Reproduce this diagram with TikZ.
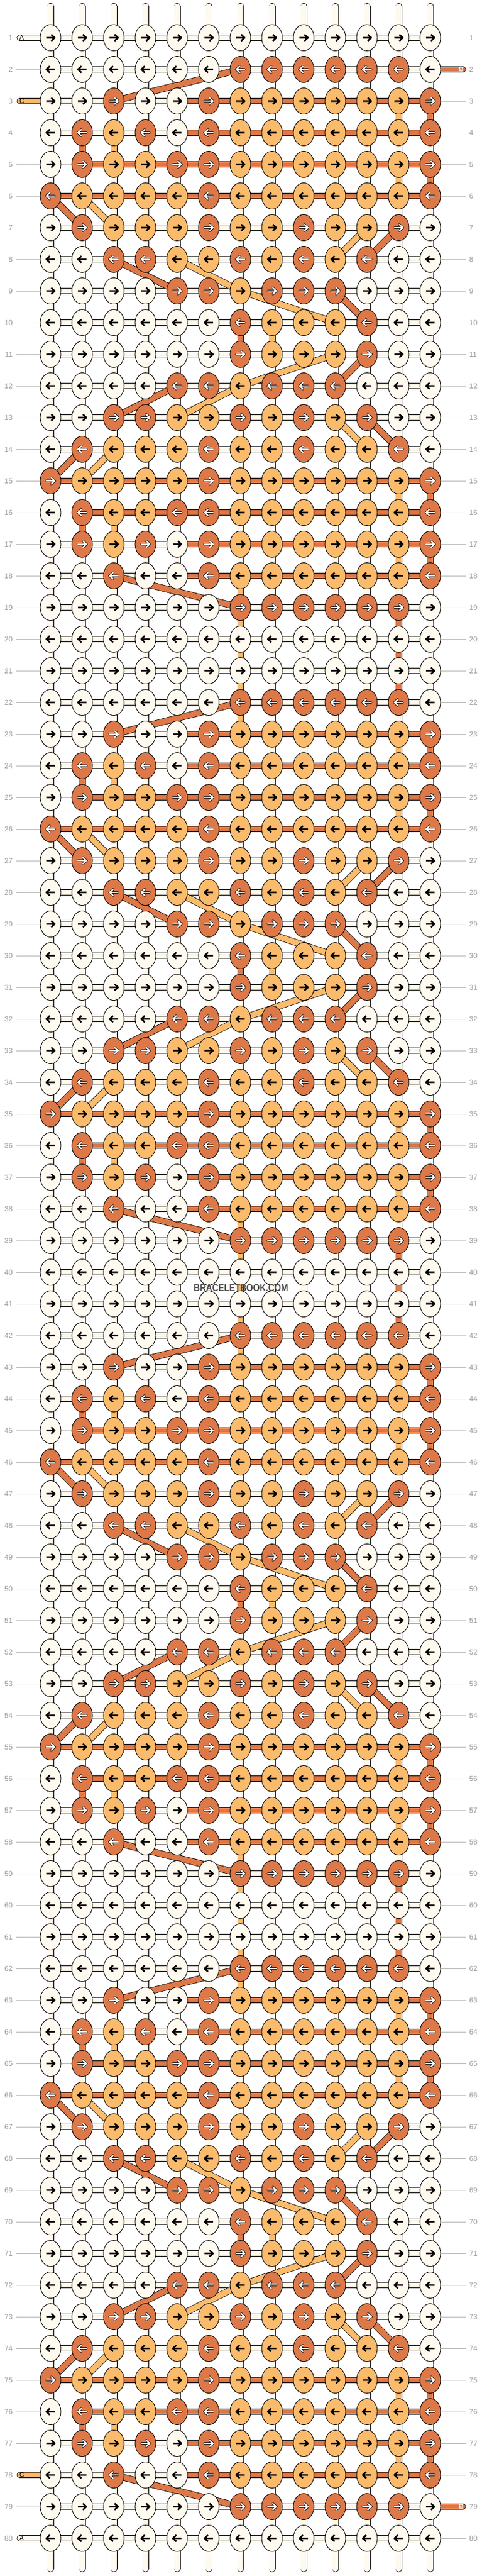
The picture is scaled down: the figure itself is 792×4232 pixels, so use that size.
\documentclass[tikz,border=0pt]{standalone}
\usepackage{fontspec}
\usepackage{graphicx}
\setmainfont{Liberation Sans}
\usetikzlibrary{shapes.geometric}

\definecolor{cW}{RGB}{255,250,239}
\definecolor{cL}{RGB}{251,187,108}
\definecolor{cD}{RGB}{221,120,72}
\definecolor{numgray}{RGB}{155,155,155}
\definecolor{leadgray}{RGB}{185,185,185}
\definecolor{markgray}{RGB}{72,72,72}

\pgfdeclarelayer{tubes}
\pgfdeclarelayer{strands}
\pgfdeclarelayer{diagonals}
\pgfdeclarelayer{marks}
\pgfsetlayers{tubes,strands,diagonals,main,marks}

% one repeat of twenty rows: knot colours, then the twelve pieces between the knots
\newcommand{\patternrow}[3]{%
    \expandafter\def\csname kn#1\endcsname{#2}%
    \expandafter\def\csname sg#1\endcsname{#3}}
\patternrow{1}{W,W,W,W,W,W,W,W,W,W,W,W,W}{W,W,W,W,W,W,W,W,W,W,W,W}
\patternrow{2}{W,W,W,W,W,W,D,D,D,D,D,D,W}{W,W,W,W,W,W,W,W,W,W,W,W}
\patternrow{3}{W,W,D,W,W,D,L,L,L,L,L,L,D}{W,W,W,W,D,D,D,D,D,D,D,D}
\patternrow{4}{W,D,L,D,W,D,L,L,L,L,L,L,D}{W,W,W,W,D,D,D,D,D,D,D,D}
\patternrow{5}{W,D,L,L,D,D,L,L,L,L,L,L,D}{N,D,D,D,D,D,D,D,D,D,D,D}
\patternrow{6}{D,L,L,L,L,D,L,L,L,L,L,L,D}{D,D,D,D,D,D,D,D,D,D,D,D}
\patternrow{7}{W,D,L,L,L,D,L,L,D,L,L,D,W}{W,W,W,W,W,W,W,W,W,W,W,W}
\patternrow{8}{W,W,D,D,L,L,D,L,D,L,D,W,W}{W,W,W,W,W,W,W,W,W,W,W,W}
\patternrow{9}{W,W,W,W,D,D,L,D,D,D,W,W,W}{W,W,W,W,W,W,W,W,W,W,W,W}
\patternrow{10}{W,W,W,W,W,W,D,L,L,L,D,W,W}{W,W,W,W,W,W,W,W,W,W,W,W}
\patternrow{11}{W,W,W,W,W,W,D,L,L,L,D,W,W}{W,W,W,W,W,W,W,W,W,W,W,W}
\patternrow{12}{W,W,W,W,D,D,L,D,D,D,W,W,W}{W,W,W,W,W,W,W,W,W,W,W,W}
\patternrow{13}{W,W,D,D,L,L,D,L,D,L,D,W,W}{W,W,W,W,W,W,W,W,W,W,W,W}
\patternrow{14}{W,D,L,L,L,D,L,L,D,L,L,D,W}{W,W,W,W,W,W,W,W,W,W,W,W}
\patternrow{15}{D,L,L,L,L,D,L,L,L,L,L,L,D}{D,D,D,D,D,D,D,D,D,D,D,D}
\patternrow{16}{W,D,L,L,D,D,L,L,L,L,L,L,D}{X,D,D,D,D,D,D,D,D,D,D,D}
\patternrow{17}{W,D,L,D,W,D,L,L,L,L,L,L,D}{W,W,W,W,D,D,D,D,D,D,D,D}
\patternrow{18}{W,W,D,W,W,D,L,L,L,L,L,L,D}{W,W,W,W,D,D,D,D,D,D,D,D}
\patternrow{19}{W,W,W,W,W,W,D,D,D,D,D,D,W}{W,W,W,W,W,W,W,W,W,W,W,W}
\patternrow{20}{W,W,W,W,W,W,W,W,W,W,W,W,W}{W,W,W,W,W,W,W,W,W,W,W,W}

\begin{document}
\begin{tikzpicture}[x = 1pt, y = -1pt,
        knot/.style = {ellipse, draw = black, line width = 0.9pt, minimum width = 34pt, minimum height = 43pt, inner sep = 0pt},
        kW/.style = {knot, fill = cW},
        kL/.style = {knot, fill = cL},
        kD/.style = {knot, fill = cD},
        tipW/.style = {line width = 2.6pt, line join = round},
        tipL/.style = {tipW},
        tipD/.style = {draw = black, line width = 0.8pt, double = white, double distance = 2.2pt, line cap = round, line join = round},
        band/.style = {draw = black, line width = 0.8pt, double distance = 8.6pt},
        segW/.style = {band, double = cW},
        segL/.style = {band, double = cL},
        segD/.style = {band, double = cD},
        segN/.style = {draw = leadgray, line width = 0.9pt},
        segX/.style = {draw = none},
        upL/.style = {band, double = cL, double distance = 9.4pt},
        upD/.style = {band, double = cD, double distance = 9.4pt},
        diagL/.style = {band, double = cL, double distance = 9.4pt},
        diagD/.style = {band, double = cD, double distance = 9.4pt},
        tube/.style = {draw = black, line width = 0.8pt, double = cW, double distance = 9.4pt, line cap = round},
        core/.style = {draw = gray!40, line width = 0.6pt, double = cW, double distance = 3.4pt},
        leader/.style = {draw = leadgray, line width = 0.9pt},
        rownum/.style = {font = \fontsize{12}{12}\selectfont, text = numgray, inner sep = 0pt},
        endlabel/.style = {font = \fontsize{10.5}{10.5}\selectfont, inner sep = 0pt}]

    \useasboundingbox (0,0) rectangle (792,4232);
    \begin{pgfonlayer}{tubes}
        \fill[white] (0,0) rectangle (792,4232);
    \end{pgfonlayer}

    % knots with their arrows
    \foreach \rr in {1, ..., 80} {
        \pgfmathtruncatemacro{\pp}{mod(\rr-1,20)+1}
        \pgfmathtruncatemacro{\dd}{ifthenelse(mod(\rr,2)==1,1,-1)}
        \edef\klist{\csname kn\pp\endcsname}
        \foreach \kk [count = \cc from 0] in \klist {
            \node[k\kk] (k-\rr-\cc) at ({83+52*\cc},{10+52*\rr}) {};
            \draw[tip\kk, shift = {({83+52*\cc},{10+52*\rr})}, xscale = \dd] (-7,0) -- (6.5,0) (1.2,-5.2) -- (7,0) -- (1.2,5.2);
        }
        \node[rownum, anchor = east] (nl-\rr) at (21,{10+52*\rr}) {\rr};
        \node[rownum, anchor = west] (nr-\rr) at (771,{10+52*\rr}) {\rr};
    }

    % warps and row leaders
    \begin{pgfonlayer}{tubes}
        \foreach \cc in {0, ..., 12} {
            \coordinate (top-\cc) at ({83+52*\cc},10.5);
            \coordinate (bot-\cc) at ({83+52*\cc},4220);
            \draw[tube] (top-\cc) -- (bot-\cc);
            \draw[core] (top-\cc) -- (bot-\cc);
        }
        \foreach \rr in {1, ..., 80} {
            \pgfmathtruncatemacro{\skipl}{(\rr==1)||(\rr==3)||(\rr==78)||(\rr==80)}
            \pgfmathtruncatemacro{\skipr}{(\rr==2)||(\rr==79)}
            \ifnum\skipl=0 \draw[leader] ([xshift = 5pt]nl-\rr.east) -- (k-\rr-0); \fi
            \ifnum\skipr=0 \draw[leader] (k-\rr-12) -- ([xshift = -5pt]nr-\rr.west); \fi
        }
    \end{pgfonlayer}

    % pieces of the working strands
    \begin{pgfonlayer}{strands}
        \foreach \rr in {1, ..., 80} {
            \pgfmathtruncatemacro{\pp}{mod(\rr-1,20)+1}
            \edef\slist{\csname sg\pp\endcsname}
            \foreach \kk [count = \cc from 0] in \slist {
                \pgfmathtruncatemacro{\nx}{\cc+1}
                \draw[seg\kk] (k-\rr-\cc.center) -- (k-\rr-\nx.center);
            }
        }
        \foreach \base in {0, 20, 40, 60}
            \foreach \g/\cc/\kk in {3/11/L, 3/12/D, 4/1/D, 4/2/L, 5/11/L, 5/12/D, 10/6/D, 10/7/L,
                    15/11/L, 15/12/D, 16/1/D, 16/2/L, 17/11/L, 17/12/D, 18/6/L, 19/6/L, 19/11/D,
                    20/6/L, 20/11/D, 21/6/L, 21/11/D, 22/6/L} {
                \pgfmathtruncatemacro{\rr}{\base+\g}
                \pgfmathtruncatemacro{\nr}{\rr+1}
                \ifnum\rr<78
                    \draw[up\kk] (k-\rr-\cc.center) -- (k-\nr-\cc.center);
                \fi
            }
        \foreach \rr/\kk in {1/W, 3/L, 78/L, 80/W} {
            \coordinate (in-\rr) at (32.5,{10+52*\rr});
            \draw[seg\kk, line cap = round] (in-\rr) -- (k-\rr-0.center);
        }
        \foreach \rr in {2, 79} {
            \coordinate (out-\rr) at (760.5,{10+52*\rr});
            \draw[segD, line cap = round] (k-\rr-12.center) -- (out-\rr);
        }
    \end{pgfonlayer}

    % strands moving across
    \begin{pgfonlayer}{diagonals}
        \foreach \base in {0, 20, 40, 60}
            \foreach \g/\a/\b/\kk in {2/6/2/D, 6/0/1/D, 6/1/2/L, 7/10/9/L, 7/11/10/D, 8/2/4/D, 8/4/6/L,
                    9/6/9/L, 9/9/10/D, 11/9/6/L, 11/10/9/D, 12/4/2/D, 12/6/4/L, 13/9/10/L, 13/10/11/D,
                    14/1/0/D, 14/2/1/L, 18/2/6/D} {
                \pgfmathtruncatemacro{\rr}{\base+\g}
                \pgfmathtruncatemacro{\nr}{\rr+1}
                \draw[diag\kk] (k-\rr-\a.center) -- (k-\nr-\b.center);
            }
    \end{pgfonlayer}

    \foreach \rr/\lt in {1/A, 3/C, 78/C, 80/A}
        \node[endlabel, anchor = west] (lab-\rr) at (32,{10+52*\rr}) {\lt};
    \foreach \rr in {2, 79}
        \node[endlabel, anchor = east, text = white] (lab-\rr) at (761.5,{10+52*\rr}) {B};

    \begin{pgfonlayer}{marks}
        \node[font = \bfseries\fontsize{16.5}{16.5}\selectfont, text = markgray, inner sep = 0pt] (mark) at (396,2116) {\scalebox{0.85}[1]{BRACELETBOOK.COM}};
    \end{pgfonlayer}
\end{tikzpicture}
\end{document}
